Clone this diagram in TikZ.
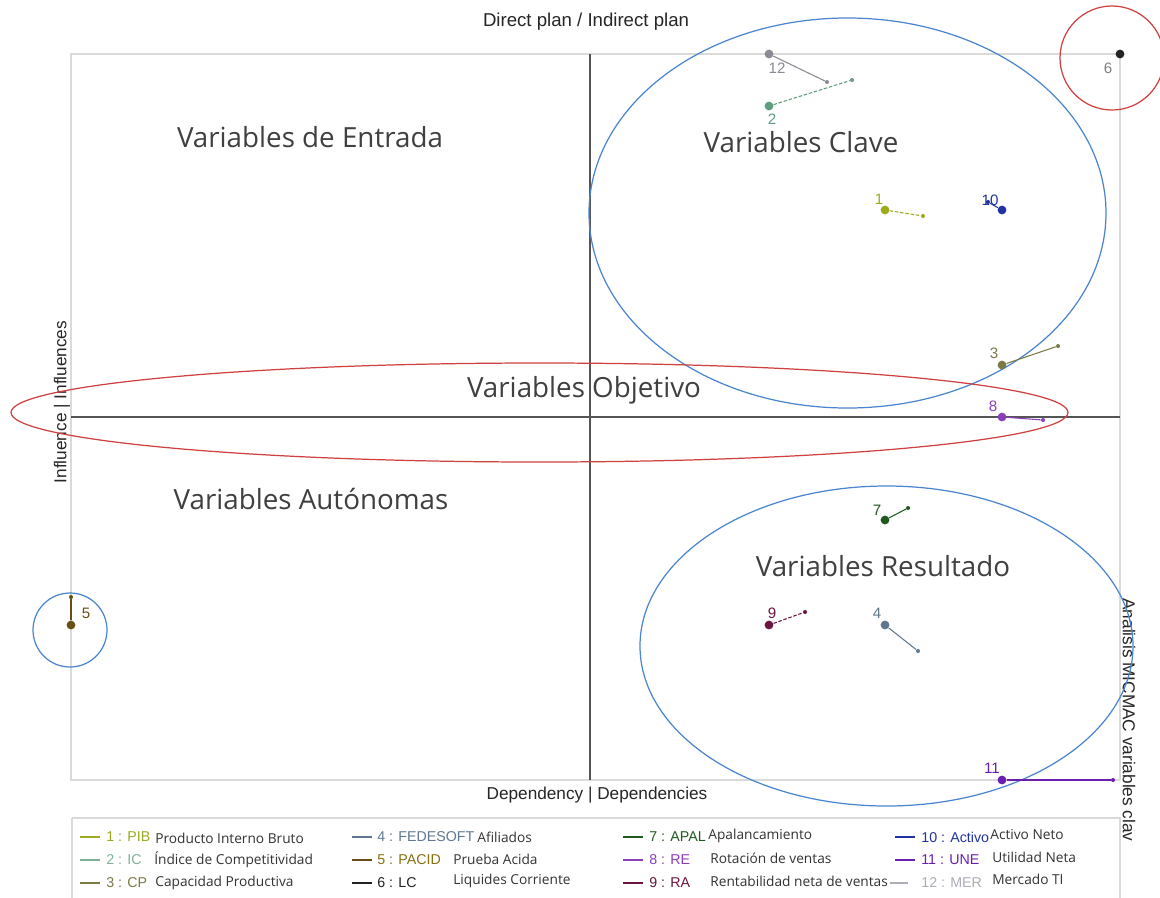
\documentclass[tikz,border=0pt]{standalone}
\usepackage{fontspec}
\setmainfont{Liberation Sans}
\newfontfamily\segoe{Open Sans}
\definecolor{cA}{HTML}{9BAA1E}
\definecolor{cB}{HTML}{5E9E7E}
\definecolor{cC}{HTML}{7B7A45}
\definecolor{cD}{HTML}{5F7890}
\definecolor{cE}{HTML}{6B4E16}
\definecolor{cF}{HTML}{222222}
\definecolor{cG}{HTML}{1E5A1E}
\definecolor{cH}{HTML}{8A3FB8}
\definecolor{cI}{HTML}{6A1640}
\definecolor{cJ}{HTML}{2233A0}
\definecolor{cK}{HTML}{6A1FB0}
\definecolor{cL}{HTML}{8A8A95}
\definecolor{frame}{HTML}{DADADA}
\definecolor{axis}{HTML}{555555}
\definecolor{bigtext}{HTML}{404040}
\definecolor{ellblue}{HTML}{4A86D0}
\definecolor{ellred}{HTML}{D04040}
\tikzset{
  bigdot/.style={circle, fill=#1, inner sep=0pt, minimum size=5pt},
  smalldot/.style={circle, fill=#1, inner sep=0pt, minimum size=2.3pt},
  plab/.style={text=#1, font=\fontsize{8.6}{10}\selectfont, inner sep=0pt},
  link/.style={draw=#1, line width=0.6pt},
  biglab/.style={text=bigtext, font=\segoe\fontsize{15.8}{18}\selectfont, inner sep=0pt},
  axlab/.style={text=black!85, font=\fontsize{9.8}{11}\selectfont, inner sep=0pt},
  legcode/.style={text=#1, font=\fontsize{8.1}{9}\selectfont, anchor=west, inner sep=0pt},
  legdesc/.style={text=black!80, font=\segoe\fontsize{7.8}{9}\selectfont, anchor=west, inner sep=0pt},
  legline/.style={draw=#1, line width=1.4pt},
  ellb/.style={draw=ellblue, line width=0.7pt},
  ellr/.style={draw=ellred, line width=0.7pt}
}
\begin{document}
\begin{tikzpicture}[x=0.02cm,y=-0.02cm]
\useasboundingbox[fill=white] (0,0) rectangle (1160,897);
% frame
\draw[frame, line width=1.1pt] (71,54) rectangle (1120,780);
\draw[frame, line width=1.1pt] (72,818) -- (1120,818) -- (1120,900);
\draw[frame, line width=1.1pt] (72,818) -- (72,900);
% axes
\draw[axis, line width=0.8pt] (590,54) -- (590,780);
\draw[axis, line width=0.8pt] (71,417) -- (1120,417);
% axis labels
\node[axlab, font=\fontsize{10.6}{12}\selectfont] (ttop) at (586,22) {Direct plan / Indirect plan};
\node[axlab] (tbot) at (597,795) {Dependency | Dependencies};
\node[axlab, rotate=90] (tleft) at (62,402) {Influence | Influences};
\node[axlab, rotate=-90] (tright) at (1129,720) {Analisis MICMAC variables clav};
% big labels
\node[biglab] (lEntrada) at (310,137) {Variables de Entrada};
\node[biglab] (lClave) at (801,142) {Variables Clave};
\node[biglab] (lObjetivo) at (584,390) {Variables Objetivo};
\node[biglab] (lAutonomas) at (311,499) {Variables Autónomas};
\node[biglab] (lResultado) at (883,566) {Variables Resultado};
% ellipses
\draw[ellb] (847.5,213) ellipse [x radius=258.5, y radius=195];
\draw[ellr] (539.5,412.5) ellipse [x radius=528.5, y radius=49.5];
\draw[ellb] (886.5,646) ellipse [x radius=246.5, y radius=160];
\draw[ellr] (1112,58) circle [radius=52];
\draw[ellb] (70,630) circle [radius=37];
% points
\node[smalldot=cL] (s12) at (827,82) {};
\node[bigdot=cL] (p12) at (769,54) {};
\draw[link=cL] (p12) -- (s12);
\node[plab=cL] (l12) at (777,68) {12};

\node[smalldot=cB] (s2) at (852,80) {};
\node[bigdot=cB] (p2) at (769,106) {};
\draw[link=cB, dashed, dash pattern=on 2pt off 1pt] (p2) -- (s2);
\node[plab=cB] (l2) at (772,119) {2};

\node[smalldot=cA] (s1) at (923,216) {};
\node[bigdot=cA] (p1) at (885,210) {};
\draw[link=cA, dashed, dash pattern=on 2pt off 1pt] (p1) -- (s1);
\node[plab=cA] (l1) at (879,199) {1};

\node[smalldot=cJ] (s10) at (988,202) {};
\node[bigdot=cJ] (p10) at (1002,210) {};
\draw[link=cJ] (p10) -- (s10);
\node[plab=cJ] (l10) at (990,200) {10};

\node[bigdot=cF] (p6) at (1120,54) {};
\node[plab=gray] (l6) at (1108,68) {6};

\node[smalldot=cC] (s3) at (1058,346) {};
\node[bigdot=cC] (p3) at (1002,365) {};
\draw[link=cC] (p3) -- (s3);
\node[plab=cC] (l3) at (994,353) {3};

\node[smalldot=cH] (s8) at (1043,420) {};
\node[bigdot=cH] (p8) at (1002,417) {};
\draw[link=cH] (p8) -- (s8);
\node[plab=cH] (l8) at (993,406) {8};

\node[smalldot=cG] (s7) at (908,508) {};
\node[bigdot=cG] (p7) at (885,520) {};
\draw[link=cG] (p7) -- (s7);
\node[plab=cG] (l7) at (877,510) {7};

\node[smalldot=cI] (s9) at (805,612) {};
\node[bigdot=cI] (p9) at (769,625) {};
\draw[link=cI, dashed, dash pattern=on 2pt off 1pt] (p9) -- (s9);
\node[plab=cI] (l9) at (772,613) {9};

\node[smalldot=cD] (s4) at (918,651) {};
\node[bigdot=cD] (p4) at (885,625) {};
\draw[link=cD] (p4) -- (s4);
\node[plab=cD] (l4) at (877,613) {4};

\node[smalldot=cK] (s11) at (1113,780) {};
\node[bigdot=cK] (p11) at (1002,780) {};
\draw[link=cK] (p11) -- (s11);
\node[plab=cK] (l11) at (992,768) {11};

\node[smalldot=cE] (s5) at (71,597) {};
\node[bigdot=cE] (p5) at (71,625) {};
\draw[link=cE, line width=0.9pt] (p5) -- (s5);
\node[plab=cE] (l5) at (86,613) {5};

% legend
\def\ra{837}\def\rb{860}\def\rc{883}
\draw[legline=cA] (80,\ra) -- (100,\ra);
\node[legcode=cA] (k1) at (106,\ra) {1 : PIB};
\node[legdesc] (d1) at (155,\ra+1) {Producto Interno Bruto};
\draw[legline=cB!80] (80,\rb) -- (100,\rb);
\node[legcode=cB!80] (k2) at (106,\rb) {2 : IC};
\node[legdesc] (d2) at (154,\rb) {Índice de Competitividad};
\draw[legline=cC] (80,\rc) -- (100,\rc);
\node[legcode=cC] (k3) at (106,\rc) {3 : CP};
\node[legdesc] (d3) at (155,\rc) {Capacidad Productiva};

\draw[legline=cD] (352,\ra) -- (372,\ra);
\node[legcode=cD] (k4) at (377,\ra) {4 : FEDESOFT};
\node[legdesc] (d4) at (477,\ra) {Afiliados};
\draw[legline=cE] (352,\rb) -- (372,\rb);
\node[legcode=cE!80!yellow] (k5) at (377,\rb) {5 : PACID};
\node[legdesc] (d5) at (453,\rb-1) {Prueba Acida};
\draw[legline=cF] (352,\rc) -- (372,\rc);
\node[legcode=cF] (k6) at (377,\rc) {6 : LC};
\node[legdesc] (d6) at (453,\rc-2) {Liquides Corriente};

\draw[legline=cG] (623,\ra) -- (643,\ra);
\node[legcode=cG] (k7) at (649,\ra) {7 : APAL};
\node[legdesc] (d7) at (708,\ra-1) {Apalancamiento};
\draw[legline=cH] (623,\rb) -- (643,\rb);
\node[legcode=cH] (k8) at (649,\rb) {8 : RE};
\node[legdesc] (d8) at (710,\rb-2) {Rotación de ventas};
\draw[legline=cI] (623,\rc) -- (643,\rc);
\node[legcode=cI] (k9) at (649,\rc) {9 : RA};
\node[legdesc] (d9) at (710,\rc-2) {Rentabilidad neta de ventas};

\draw[legline=cJ] (895,\ra) -- (915,\ra);
\node[legcode=cJ] (k10) at (921,\ra) {10 : Activo};
\node[legdesc] (d10) at (990,\ra-2) {Activo Neto};
\draw[legline=cK] (895,\rb) -- (915,\rb);
\node[legcode=cK] (k11) at (921,\rb) {11 : UNE};
\node[legdesc] (d11) at (992,\rb-3) {Utilidad Neta};
\draw[legline=cL!70] (890,\rc) -- (908,\rc);
\node[legcode=cL!70] (k12) at (921,\rc) {12 : MER};
\node[legdesc] (d12) at (992,\rc-4) {Mercado TI};
\end{tikzpicture}
\end{document}
